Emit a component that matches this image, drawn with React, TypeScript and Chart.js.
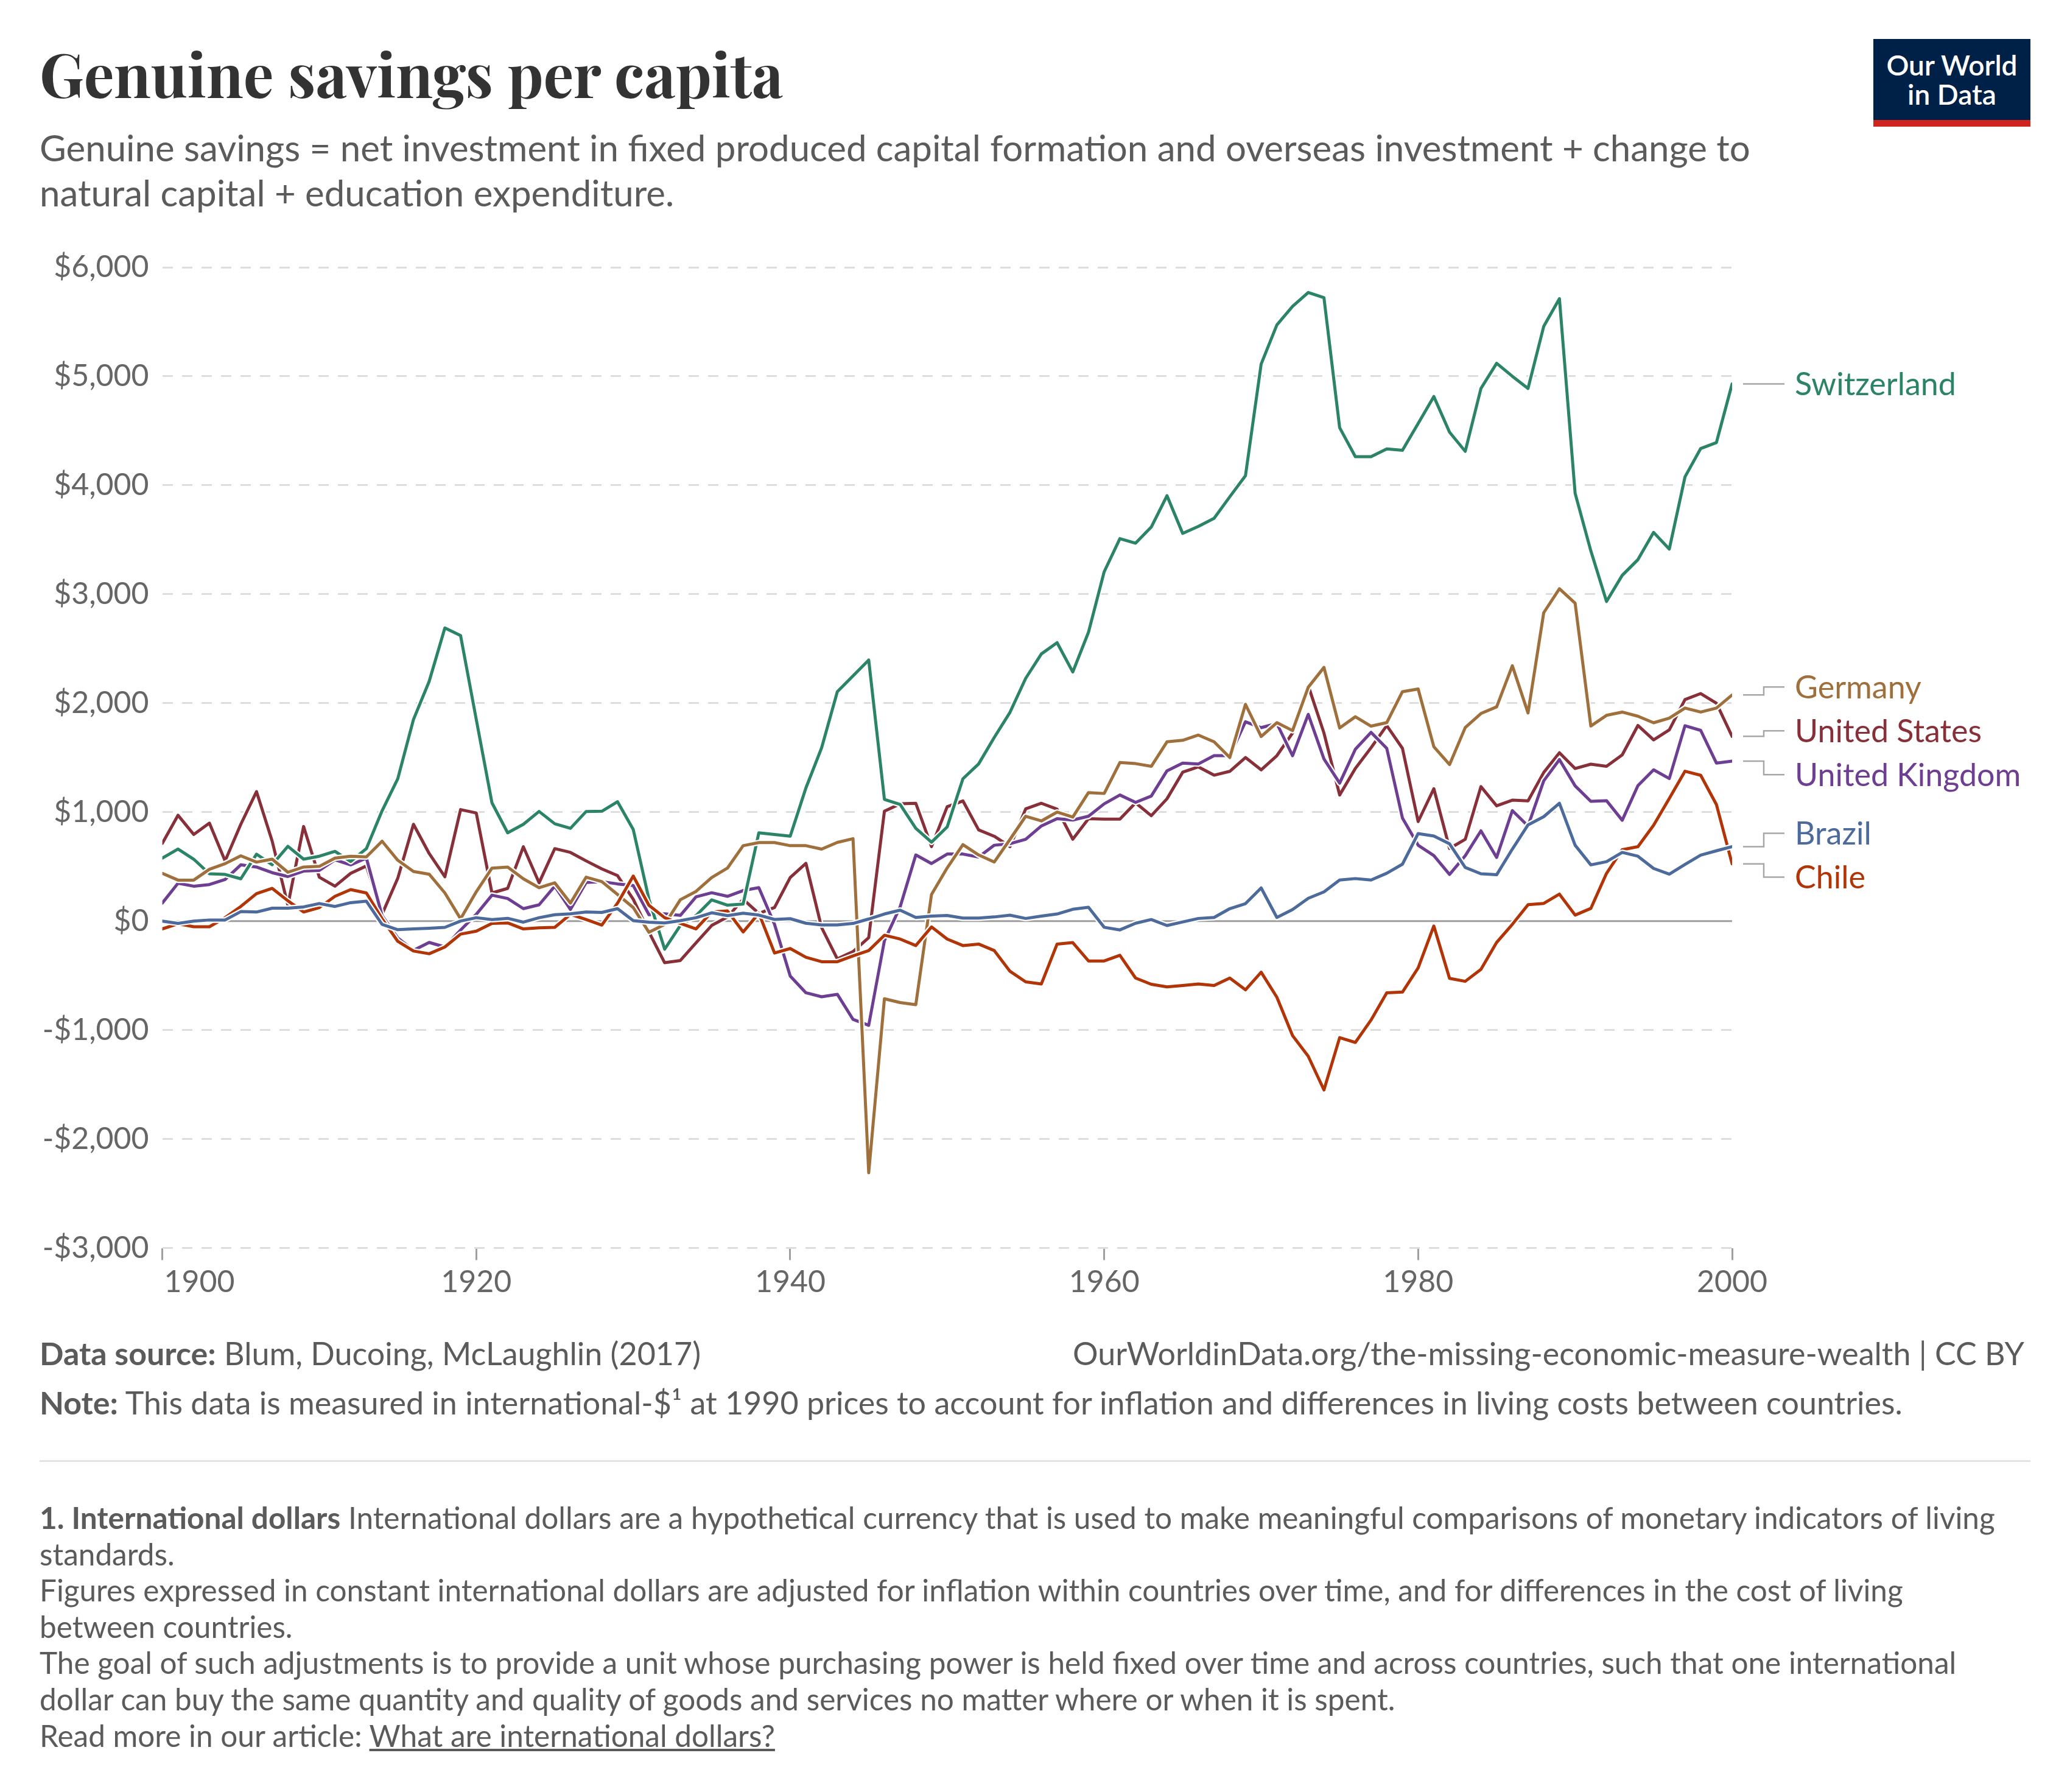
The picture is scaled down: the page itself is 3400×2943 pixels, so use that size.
import { useEffect, useRef } from 'react';
import { Chart, registerables } from 'chart.js';

Chart.register(...registerables);

// years 1900..2000, one value per year
const firstYear = 1900;
const years = Array.from({ length: 101 }, (_, i) => firstYear + i);

const switzerland = [
  578, 661, 568, 434, 428, 388, 614, 517, 686, 568,
  595, 640, 547, 665, 1012, 1306, 1850, 2200, 2690, 2620,
  1850, 1085, 810, 888, 1006, 893, 851, 1006, 1008, 1095,
  841, 200, -258, -40, 50, 195, 146, 156, 810, 795,
  779, 1222, 1590, 2105, 2250, 2396, 1117, 1070, 851, 724,
  864, 1306, 1442, 1686, 1916, 2228, 2452, 2555, 2286, 2651,
  3206, 3510, 3468, 3616, 3904, 3558, 3622, 3696, 3894, 4087,
  5112, 5471, 5641, 5769, 5721, 4528, 4262, 4262, 4333, 4321,
  4567, 4814, 4487, 4311, 4888, 5119, 5000, 4888, 5458, 5712,
  3926, 3398, 2933, 3173, 3317, 3567, 3414, 4077, 4337, 4391,
  4930,
];

const germany = [
  438, 376, 376, 475, 527, 599, 541, 568, 448, 496,
  502, 578, 595, 589, 733, 558, 455, 430, 258, 21,
  269, 486, 496, 388, 306, 351, 165, 403, 362, 244,
  124, -103, -31, 196, 272, 400, 486, 692, 720, 720,
  692, 692, 660, 722, 756, -2310, -713, -748, -767, 244,
  488, 702, 607, 542, 750, 962, 919, 1000, 954, 1179,
  1171, 1455, 1445, 1420, 1645, 1659, 1707, 1645, 1501, 1989,
  1694, 1821, 1748, 2146, 2328, 1772, 1875, 1789, 1821, 2105,
  2130, 1600, 1436, 1776, 1905, 1966, 2343, 1910, 2830, 3050,
  2917, 1790, 1888, 1918, 1880, 1820, 1863, 1955, 1918, 1955,
  2075,
];

const unitedStates = [
  713, 971, 795, 899, 552, 888, 1188, 733, 145, 868,
  403, 320, 438, 506, 62, 393, 888, 620, 407, 1023,
  992, 258, 300, 682, 351, 665, 630, 552, 479, 417,
  200, -100, -382, -362, -200, -40, 37, 200, 70, 125,
  400, 530, -60, -347, -280, -152, 1008, 1076, 1081, 683,
  1049, 1103, 837, 778, 683, 1030, 1081, 1027, 751, 940,
  935, 935, 1085, 967, 1122, 1366, 1415, 1339, 1374, 1501,
  1388, 1518, 1726, 2160, 1726, 1157, 1401, 1591, 1794, 1585,
  913, 1215, 666, 750, 1234, 1058, 1110, 1103, 1364, 1545,
  1400, 1440, 1420, 1525, 1795, 1663, 1755, 2033, 2088, 2000,
  1695,
];

const unitedKingdom = [
  165, 347, 320, 335, 382, 516, 496, 444, 409, 459,
  465, 562, 516, 578, 50, -155, -269, -196, -238, -83,
  62, 238, 207, 114, 149, 320, 107, 355, 362, 341,
  326, 58, 66, 52, 222, 260, 227, 280, 307, -30,
  -505, -658, -695, -672, -902, -957, -180, 130, 607, 528,
  615, 615, 588, 696, 710, 750, 873, 940, 927, 962,
  1076, 1157, 1089, 1147, 1379, 1450, 1442, 1518, 1518, 1829,
  1775, 1813, 1518, 1897, 1488, 1266, 1577, 1732, 1585, 945,
  696, 601, 428, 600, 828, 584, 1014, 873, 1287, 1482,
  1241, 1099, 1105, 925, 1243, 1388, 1308, 1793, 1750, 1450,
  1468,
];

const brazil = [
  0, -21, 0, 10, 10, 87, 83, 118, 118, 130,
  161, 134, 169, 182, -31, -79, -72, -66, -58, 0,
  31, 14, 25, -10, 31, 58, 66, 83, 79, 114,
  4, -10, -17, 4, 31, 76, 50, 72, 55, 15,
  22, -20, -36, -36, -22, 19, 65, 100, 33, 46,
  51, 27, 27, 38, 54, 24, 46, 65, 108, 127,
  -57, -81, -20, 14, -41, -8, 24, 33, 114, 160,
  304, 33, 106, 209, 268, 377, 390, 377, 439, 522,
  803, 780, 709, 492, 434, 425, 660, 883, 958, 1082,
  696, 516, 545, 630, 595, 483, 430, 520, 605, 645,
  683,
];

const chile = [
  -72, -25, -52, -52, 31, 134, 252, 300, 186, 83,
  124, 227, 289, 258, 21, -186, -275, -300, -238, -120,
  -93, -21, -17, -72, -62, -58, 62, 14, -37, 165,
  413, 145, 31, -21, -72, 83, 93, -100, 72, -293,
  -252, -332, -373, -373, -320, -271, -130, -165, -225, -54,
  -165, -225, -211, -271, -461, -558, -577, -211, -198, -366,
  -366, -314, -523, -580, -604, -591, -577, -591, -523, -631,
  -469, -699, -1051, -1241, -1550, -1070, -1114, -908, -659, -652,
  -430, -45, -526, -553, -443, -196, -30, 150, 162, 247,
  55, 116, 438, 655, 683, 880, 1125, 1375, 1338, 1070,
  525,
];

const xTicks = [1900, 1920, 1940, 1960, 1980, 2000];
const yMin = -3000;
const yMax = 6000;
const yStep = 1000;

// drawn bottom first, last one on top
const series = [
  { name: 'United States', color: '#883039', values: unitedStates },
  { name: 'United Kingdom', color: '#6d3e91', values: unitedKingdom },
  { name: 'Switzerland', color: '#2b8465', values: switzerland },
  { name: 'Germany', color: '#a0703c', values: germany },
  { name: 'Chile', color: '#b13507', values: chile },
  { name: 'Brazil', color: '#4c6a9c', values: brazil },
];

const W = 3400;
const H = 2943;
const FONT = 'Lato, "Noto Sans", sans-serif';
const TEXT = '#5b5b5b';

function money(v: number) {
  const s = '$' + Math.abs(v).toLocaleString('en-US');
  return v < 0 ? '-' + s : s;
}

// push overlapping labels apart, keeping each group centred on its lines
function spread(targets: number[], gap: number) {
  const order = targets.map((_, i) => i).sort((a, b) => targets[a] - targets[b]);
  let blocks = order.map((i) => ({ members: [i], center: targets[i] }));
  let merged = true;
  while (merged) {
    merged = false;
    for (let b = 0; b < blocks.length - 1; b++) {
      const A = blocks[b];
      const B = blocks[b + 1];
      const aEnd = A.center + ((A.members.length - 1) * gap) / 2;
      const bStart = B.center - ((B.members.length - 1) * gap) / 2;
      if (bStart - aEnd < gap) {
        const members = [...A.members, ...B.members];
        const center = members.reduce((s, m) => s + targets[m], 0) / members.length;
        blocks.splice(b, 2, { members, center });
        merged = true;
        break;
      }
    }
  }
  const out: number[] = new Array(targets.length);
  blocks.forEach((bl) =>
    bl.members.forEach((m, k) => {
      out[m] = bl.center + (k - (bl.members.length - 1) / 2) * gap;
    })
  );
  return out;
}

const zeroLine = {
  id: 'zeroLine',
  beforeDatasetsDraw(chart: any) {
    const { ctx, chartArea, scales } = chart;
    const y = scales.y.getPixelForValue(0);
    ctx.save();
    ctx.strokeStyle = '#9e9e9e';
    ctx.lineWidth = 3;
    ctx.beginPath();
    ctx.moveTo(chartArea.left, y);
    ctx.lineTo(chartArea.right, y);
    ctx.stroke();
    ctx.restore();
  },
};

const yearLabels = {
  id: 'yearLabels',
  afterDraw(chart: any) {
    const { ctx, chartArea, scales } = chart;
    ctx.save();
    ctx.font = `50px ${FONT}`;
    ctx.fillStyle = '#666';
    ctx.textBaseline = 'alphabetic';
    xTicks.forEach((t, i) => {
      const x = scales.x.getPixelForValue(t);
      ctx.textAlign = i === 0 ? 'left' : 'center';
      ctx.fillText(String(t), i === 0 ? x + 3 : x, chartArea.bottom + 72);
    });
    ctx.restore();
  },
};

const endLabels = {
  id: 'endLabels',
  afterDatasetsDraw(chart: any) {
    const { ctx, chartArea, scales } = chart;
    const ends = series.map((s) => scales.y.getPixelForValue(s.values[s.values.length - 1]));
    const pos = spread(ends, 72);
    const x0 = chartArea.right + 18;
    const xe = chartArea.right + 52;
    const x1 = chartArea.right + 86;
    ctx.save();
    series.forEach((s, i) => {
      ctx.strokeStyle = '#a6a6a6';
      ctx.lineWidth = 2.5;
      ctx.beginPath();
      ctx.moveTo(x0, ends[i]);
      ctx.lineTo(xe, ends[i]);
      ctx.lineTo(xe, pos[i]);
      ctx.lineTo(x1, pos[i]);
      ctx.stroke();
      ctx.font = `52px ${FONT}`;
      ctx.fillStyle = s.color;
      ctx.textAlign = 'left';
      ctx.textBaseline = 'alphabetic';
      ctx.fillText(s.name, chartArea.right + 103, pos[i] + 18.5);
    });
    ctx.restore();
  },
};

function LineChart() {
  const canvasRef = useRef<HTMLCanvasElement>(null);

  useEffect(() => {
    if (!canvasRef.current) return;
    const ctx = canvasRef.current.getContext('2d');
    if (!ctx) return;

    const datasets: any[] = [];
    series.forEach((s, k) => {
      const pts = years.map((x, i) => ({ x, y: s.values[i] }));
      datasets.push({
        label: s.name + ' halo',
        data: pts,
        borderColor: '#ffffff',
        borderWidth: 9.5,
        order: 100 - 2 * k,
      });
      datasets.push({
        label: s.name,
        data: pts,
        borderColor: s.color,
        borderWidth: 5,
        order: 99 - 2 * k,
      });
    });

    const chart = new Chart(ctx, {
      type: 'line',
      data: { datasets },
      options: {
        animation: false,
        responsive: false,
        devicePixelRatio: 1,
        events: [],
        layout: { padding: { left: 0, top: 439, right: W - 2845, bottom: H - 2049.5 - 80 } },
        elements: {
          point: { radius: 0 },
          line: { tension: 0, borderJoinStyle: 'round', borderCapStyle: 'round', fill: false },
        },
        plugins: { legend: { display: false }, tooltip: { enabled: false } },
        scales: {
          x: {
            type: 'linear',
            min: 1900,
            max: 2000,
            ticks: { display: false, stepSize: 20 },
            grid: { drawOnChartArea: false, drawTicks: true, tickLength: 20, color: '#a0a0a0', lineWidth: 3 },
            border: { display: false },
            afterFit: (scale: any) => {
              scale.height = 80;
            },
          },
          y: {
            min: yMin,
            max: yMax,
            ticks: {
              stepSize: yStep,
              padding: 22,
              color: '#666',
              font: { family: FONT, size: 50 },
              callback: (v: any) => money(Number(v)),
            },
            grid: {
              drawTicks: false,
              lineWidth: 3,
              color: (c: any) => (c.tick && c.tick.value === 0 ? 'rgba(0,0,0,0)' : '#dddddd'),
            },
            border: { display: false, dash: [17, 15] },
            afterFit: (scale: any) => {
              scale.width = 266.6;
            },
          },
        },
      },
      plugins: [zeroLine, endLabels, yearLabels],
    });

    return () => chart.destroy();
  }, []);

  return (
    <canvas
      ref={canvasRef}
      width={W}
      height={H}
      style={{ position: 'absolute', left: 0, top: 0, width: W, height: H }}
    />
  );
}

const noteLines = [
  'standards.',
  'Figures expressed in constant international dollars are adjusted for inflation within countries over time, and for differences in the cost of living',
  'between countries.',
  'The goal of such adjustments is to provide a unit whose purchasing power is held fixed over time and across countries, such that one international',
  'dollar can buy the same quantity and quality of goods and services no matter where or when it is spent.',
];

export default function App() {
  const abs = (left: number, top: number, extra: React.CSSProperties = {}): React.CSSProperties => ({
    position: 'absolute',
    left,
    top,
    whiteSpace: 'nowrap',
    ...extra,
  });

  return (
    <div style={{ position: 'relative', width: W, height: H, background: '#fff', fontFamily: FONT, overflow: 'hidden' }}>
      <style>{'body{margin:0;background:#fff}'}</style>
      <LineChart />

      <div
        style={abs(65, 71, {
          fontFamily: '"Playfair Display", "Liberation Serif", serif',
          fontWeight: 700,
          fontSize: 99,
          lineHeight: '99px',
          color: '#333',
        })}
      >
        Genuine savings per capita
      </div>

      <div style={abs(65, 205, { fontSize: 60, lineHeight: '74px', color: TEXT })}>
        Genuine savings = net investment in fixed produced capital formation and overseas investment + change to
        <br />
        natural capital + education expenditure.
      </div>

      <div
        style={abs(3077, 64, {
          width: 258,
          height: 144,
          background: '#002147',
          color: '#fff',
          textAlign: 'center',
          fontSize: 46,
          fontWeight: 600,
          lineHeight: '48px',
          boxSizing: 'border-box',
          paddingTop: 19,
        })}
      >
        Our World
        <br />
        in Data
        <div style={{ position: 'absolute', left: 0, bottom: 0, width: 258, height: 11, background: '#ce261e' }} />
      </div>

      <div style={abs(65, 2196, { fontSize: 52, lineHeight: '52px', color: TEXT })}>
        <b>Data source:</b> Blum, Ducoing, McLaughlin (2017)
      </div>
      <div style={abs(0, 2196, { fontSize: 52, lineHeight: '52px', color: TEXT, left: 'auto', right: 75 })}>
        OurWorldinData.org/the-missing-economic-measure-wealth | CC BY
      </div>
      <div style={abs(65, 2277, { fontSize: 52, lineHeight: '52px', color: TEXT })}>
        <b>Note:</b> This data is measured in international-$¹ at 1990 prices to account for inflation and differences in
        living costs between countries.
      </div>

      <div style={abs(65, 2398, { width: 3270, height: 3, background: '#e3e3e3' })} />

      <div style={abs(65, 2463, { fontSize: 49.5, lineHeight: '59.6px', color: TEXT })}>
        <div>
          <b>1. International dollars</b> International dollars are a hypothetical currency that is used to make
          meaningful comparisons of monetary indicators of living
        </div>
        {noteLines.map((l) => (
          <div key={l}>{l}</div>
        ))}
        <div>
          Read more in our article: <span style={{ textDecoration: 'underline' }}>What are international dollars?</span>
        </div>
      </div>
    </div>
  );
}
